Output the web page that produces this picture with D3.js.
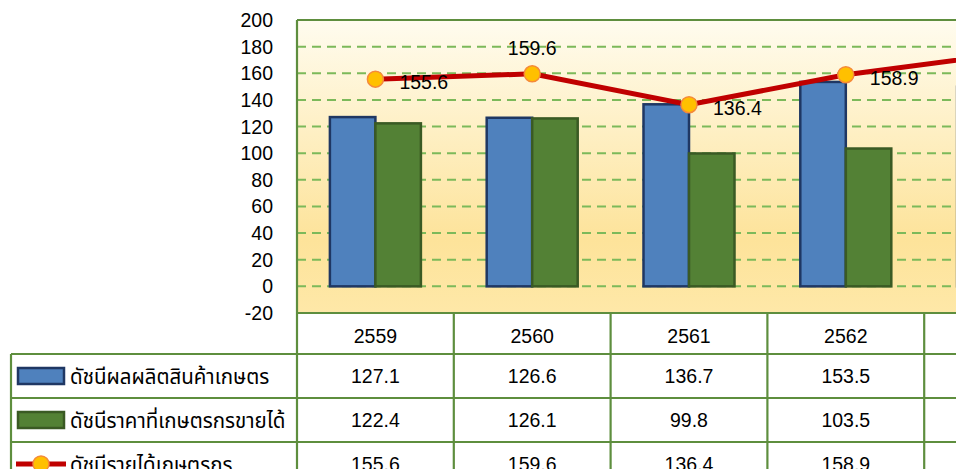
<!DOCTYPE html>
<html>
<head>
<meta charset="utf-8">
<script src="https://cdn.jsdelivr.net/npm/d3@7"></script>
<style>
    body { margin: 0; overflow: hidden; background: #fff; }
    text { font-family: "Liberation Sans", "Noto Sans Thai", Tahoma, sans-serif; }
</style>
</head>
<body>
<div id="my_dataviz"></div>
<script>
// Data (the 5th year is cut off at the right edge, estimated)
const years = ["2559", "2560", "2561", "2562", "2563"];
const productionIndex = [127.1, 126.6, 136.7, 153.5, 149.9];
const priceIndex = [122.4, 126.1, 99.8, 103.5, 116.0];
const incomeIndex = [155.6, 159.6, 136.4, 158.9, 174.3];
const seriesNames = ["ดัชนีผลผลิตสินค้าเกษตร", "ดัชนีราคาที่เกษตรกรขายได้", "ดัชนีรายได้เกษตรกร"];
const yTicks = [-20, 0, 20, 40, 60, 80, 100, 120, 140, 160, 180, 200];

// Layout
const plot = {left: 297, top: 20, bottom: 313, colWidth: 156.8};
const tableLeft = 11;
const rowLines = [313, 354, 398, 442, 486];
const green = "#5e8e3e";

const svg = d3.select("#my_dataviz").append("svg")
    .attr("width", 1100)
    .attr("height", 520);

// Scales
const x = d3.scaleBand()
    .domain(years)
    .range([plot.left, plot.left + plot.colWidth * years.length])
    .padding(0);

const xSub = d3.scaleBand()
    .domain(["prod", "price"])
    .range([0, x.bandwidth()])
    .paddingInner(0)
    .paddingOuter(0.723);

const y = d3.scaleLinear()
    .domain([-20, 200])
    .range([plot.bottom, plot.top]);

const plotRight = x.range()[1];

// Plot area background gradient
const defs = svg.append("defs");
const grad = defs.append("linearGradient")
    .attr("id", "bg")
    .attr("x1", 0).attr("y1", 0).attr("x2", 0).attr("y2", 1);
grad.append("stop").attr("offset", "0%").attr("stop-color", "#fffcef");
grad.append("stop").attr("offset", "75%").attr("stop-color", "#fde39a");
grad.append("stop").attr("offset", "100%").attr("stop-color", "#fee8a8");

svg.append("rect")
    .attr("x", plot.left)
    .attr("y", plot.top)
    .attr("width", plotRight - plot.left)
    .attr("height", plot.bottom - plot.top)
    .attr("fill", "url(#bg)");

// Dashed gridlines
svg.append("g")
    .selectAll("line")
    .data(yTicks.filter(d => d >= 0 && d < 200))
    .join("line")
        .attr("x1", plot.left)
        .attr("x2", plotRight)
        .attr("y1", d => y(d))
        .attr("y2", d => y(d))
        .attr("stroke", "#7cb95a")
        .attr("stroke-width", 2)
        .attr("stroke-dasharray", "9,6");

// Y axis labels
svg.append("g")
    .selectAll("text")
    .data(yTicks)
    .join("text")
        .attr("x", plot.left - 24)
        .attr("y", d => y(d))
        .attr("dy", "0.36em")
        .attr("text-anchor", "end")
        .attr("font-size", "19.5px")
        .attr("fill", "#000")
        .text(d => d);

// Bars
const barStyles = [
    {key: "prod", values: productionIndex, fill: "#4f81bd", stroke: "#1f3763"},
    {key: "price", values: priceIndex, fill: "#538135", stroke: "#3a5a24"}
];

barStyles.forEach(function(s) {
    svg.append("g")
        .selectAll("rect")
        .data(years.map((yr, i) => ({year: yr, value: s.values[i]})))
        .join("rect")
            .attr("x", d => x(d.year) + xSub(s.key))
            .attr("y", d => y(d.value))
            .attr("width", xSub.bandwidth())
            .attr("height", d => y(0) - y(d.value))
            .attr("fill", s.fill)
            .attr("stroke", s.stroke)
            .attr("stroke-width", 2.5);
});

// Income line
const lineData = years.map((yr, i) => ({year: yr, value: incomeIndex[i]}));
const line = d3.line()
    .x(d => x(d.year) + x.bandwidth() / 2)
    .y(d => y(d.value));

svg.append("path")
    .datum(lineData)
    .attr("fill", "none")
    .attr("stroke", "#c00000")
    .attr("stroke-width", 5)
    .attr("d", line);

svg.append("g")
    .selectAll("circle")
    .data(lineData)
    .join("circle")
        .attr("cx", d => x(d.year) + x.bandwidth() / 2)
        .attr("cy", d => y(d.value))
        .attr("r", 8)
        .attr("fill", "#ffc000")
        .attr("stroke", "#f58a3a")
        .attr("stroke-width", 1.5);

// Data labels (one sits above its marker, the rest to the right)
svg.append("g")
    .selectAll("text")
    .data(lineData)
    .join("text")
        .attr("x", d => x(d.year) + x.bandwidth() / 2 + (d.year === "2560" ? 0 : 24))
        .attr("y", d => y(d.value) + (d.year === "2560" ? -26 : 3))
        .attr("dy", "0.36em")
        .attr("text-anchor", d => d.year === "2560" ? "middle" : "start")
        .attr("font-size", "19.5px")
        .attr("fill", "#000")
        .text(d => d.value.toFixed(1));

// Data table grid
const grid = svg.append("g")
    .attr("stroke", green)
    .attr("stroke-width", 2.2);

// top border of the plot area
grid.append("line")
    .attr("x1", plot.left).attr("x2", plotRight)
    .attr("y1", plot.top).attr("y2", plot.top);

rowLines.forEach(function(ry, i) {
    grid.append("line")
        .attr("x1", i === 0 ? plot.left : tableLeft)
        .attr("x2", plotRight)
        .attr("y1", ry).attr("y2", ry);
});

// vertical lines
grid.append("line")
    .attr("x1", tableLeft).attr("x2", tableLeft)
    .attr("y1", rowLines[1]).attr("y2", rowLines[4]);
grid.append("line")
    .attr("x1", plot.left).attr("x2", plot.left)
    .attr("y1", plot.top).attr("y2", rowLines[4]);
years.forEach(function(yr) {
    grid.append("line")
        .attr("x1", x(yr) + x.bandwidth()).attr("x2", x(yr) + x.bandwidth())
        .attr("y1", rowLines[0]).attr("y2", rowLines[4]);
});

// Category labels
svg.append("g")
    .selectAll("text")
    .data(years)
    .join("text")
        .attr("x", d => x(d) + x.bandwidth() / 2)
        .attr("y", (rowLines[0] + rowLines[1]) / 2 + 2)
        .attr("dy", "0.36em")
        .attr("text-anchor", "middle")
        .attr("font-size", "19.5px")
        .text(d => d);

// Table rows
const tableRows = [productionIndex, priceIndex, incomeIndex];
tableRows.forEach(function(vals, r) {
    const cy = (rowLines[r + 1] + rowLines[r + 2]) / 2;
    svg.append("g")
        .selectAll("text")
        .data(years.map((yr, i) => ({year: yr, value: vals[i]})))
        .join("text")
            .attr("x", d => x(d.year) + x.bandwidth() / 2)
            .attr("y", cy)
            .attr("dy", "0.36em")
            .attr("text-anchor", "middle")
            .attr("font-size", "19.5px")
            .text(d => d.value.toFixed(1));

    // legend key
    const key = svg.append("g");
    if (r < 2) {
        key.append("rect")
            .attr("x", 18).attr("y", cy - 8)
            .attr("width", 46).attr("height", 16)
            .attr("fill", barStyles[r].fill)
            .attr("stroke", barStyles[r].stroke)
            .attr("stroke-width", 2.5);
    } else {
        key.append("line")
            .attr("x1", 16).attr("x2", 66)
            .attr("y1", cy).attr("y2", cy)
            .attr("stroke", "#c00000")
            .attr("stroke-width", 5);
        key.append("circle")
            .attr("cx", 41).attr("cy", cy)
            .attr("r", 8)
            .attr("fill", "#ffc000")
            .attr("stroke", "#f58a3a")
            .attr("stroke-width", 1.5);
    }
    key.append("text")
        .attr("x", 70)
        .attr("y", cy + 1)
        .attr("dy", "0.36em")
        .attr("font-size", "20.5px")
        .text(seriesNames[r]);
});
</script>
</body>
</html>
